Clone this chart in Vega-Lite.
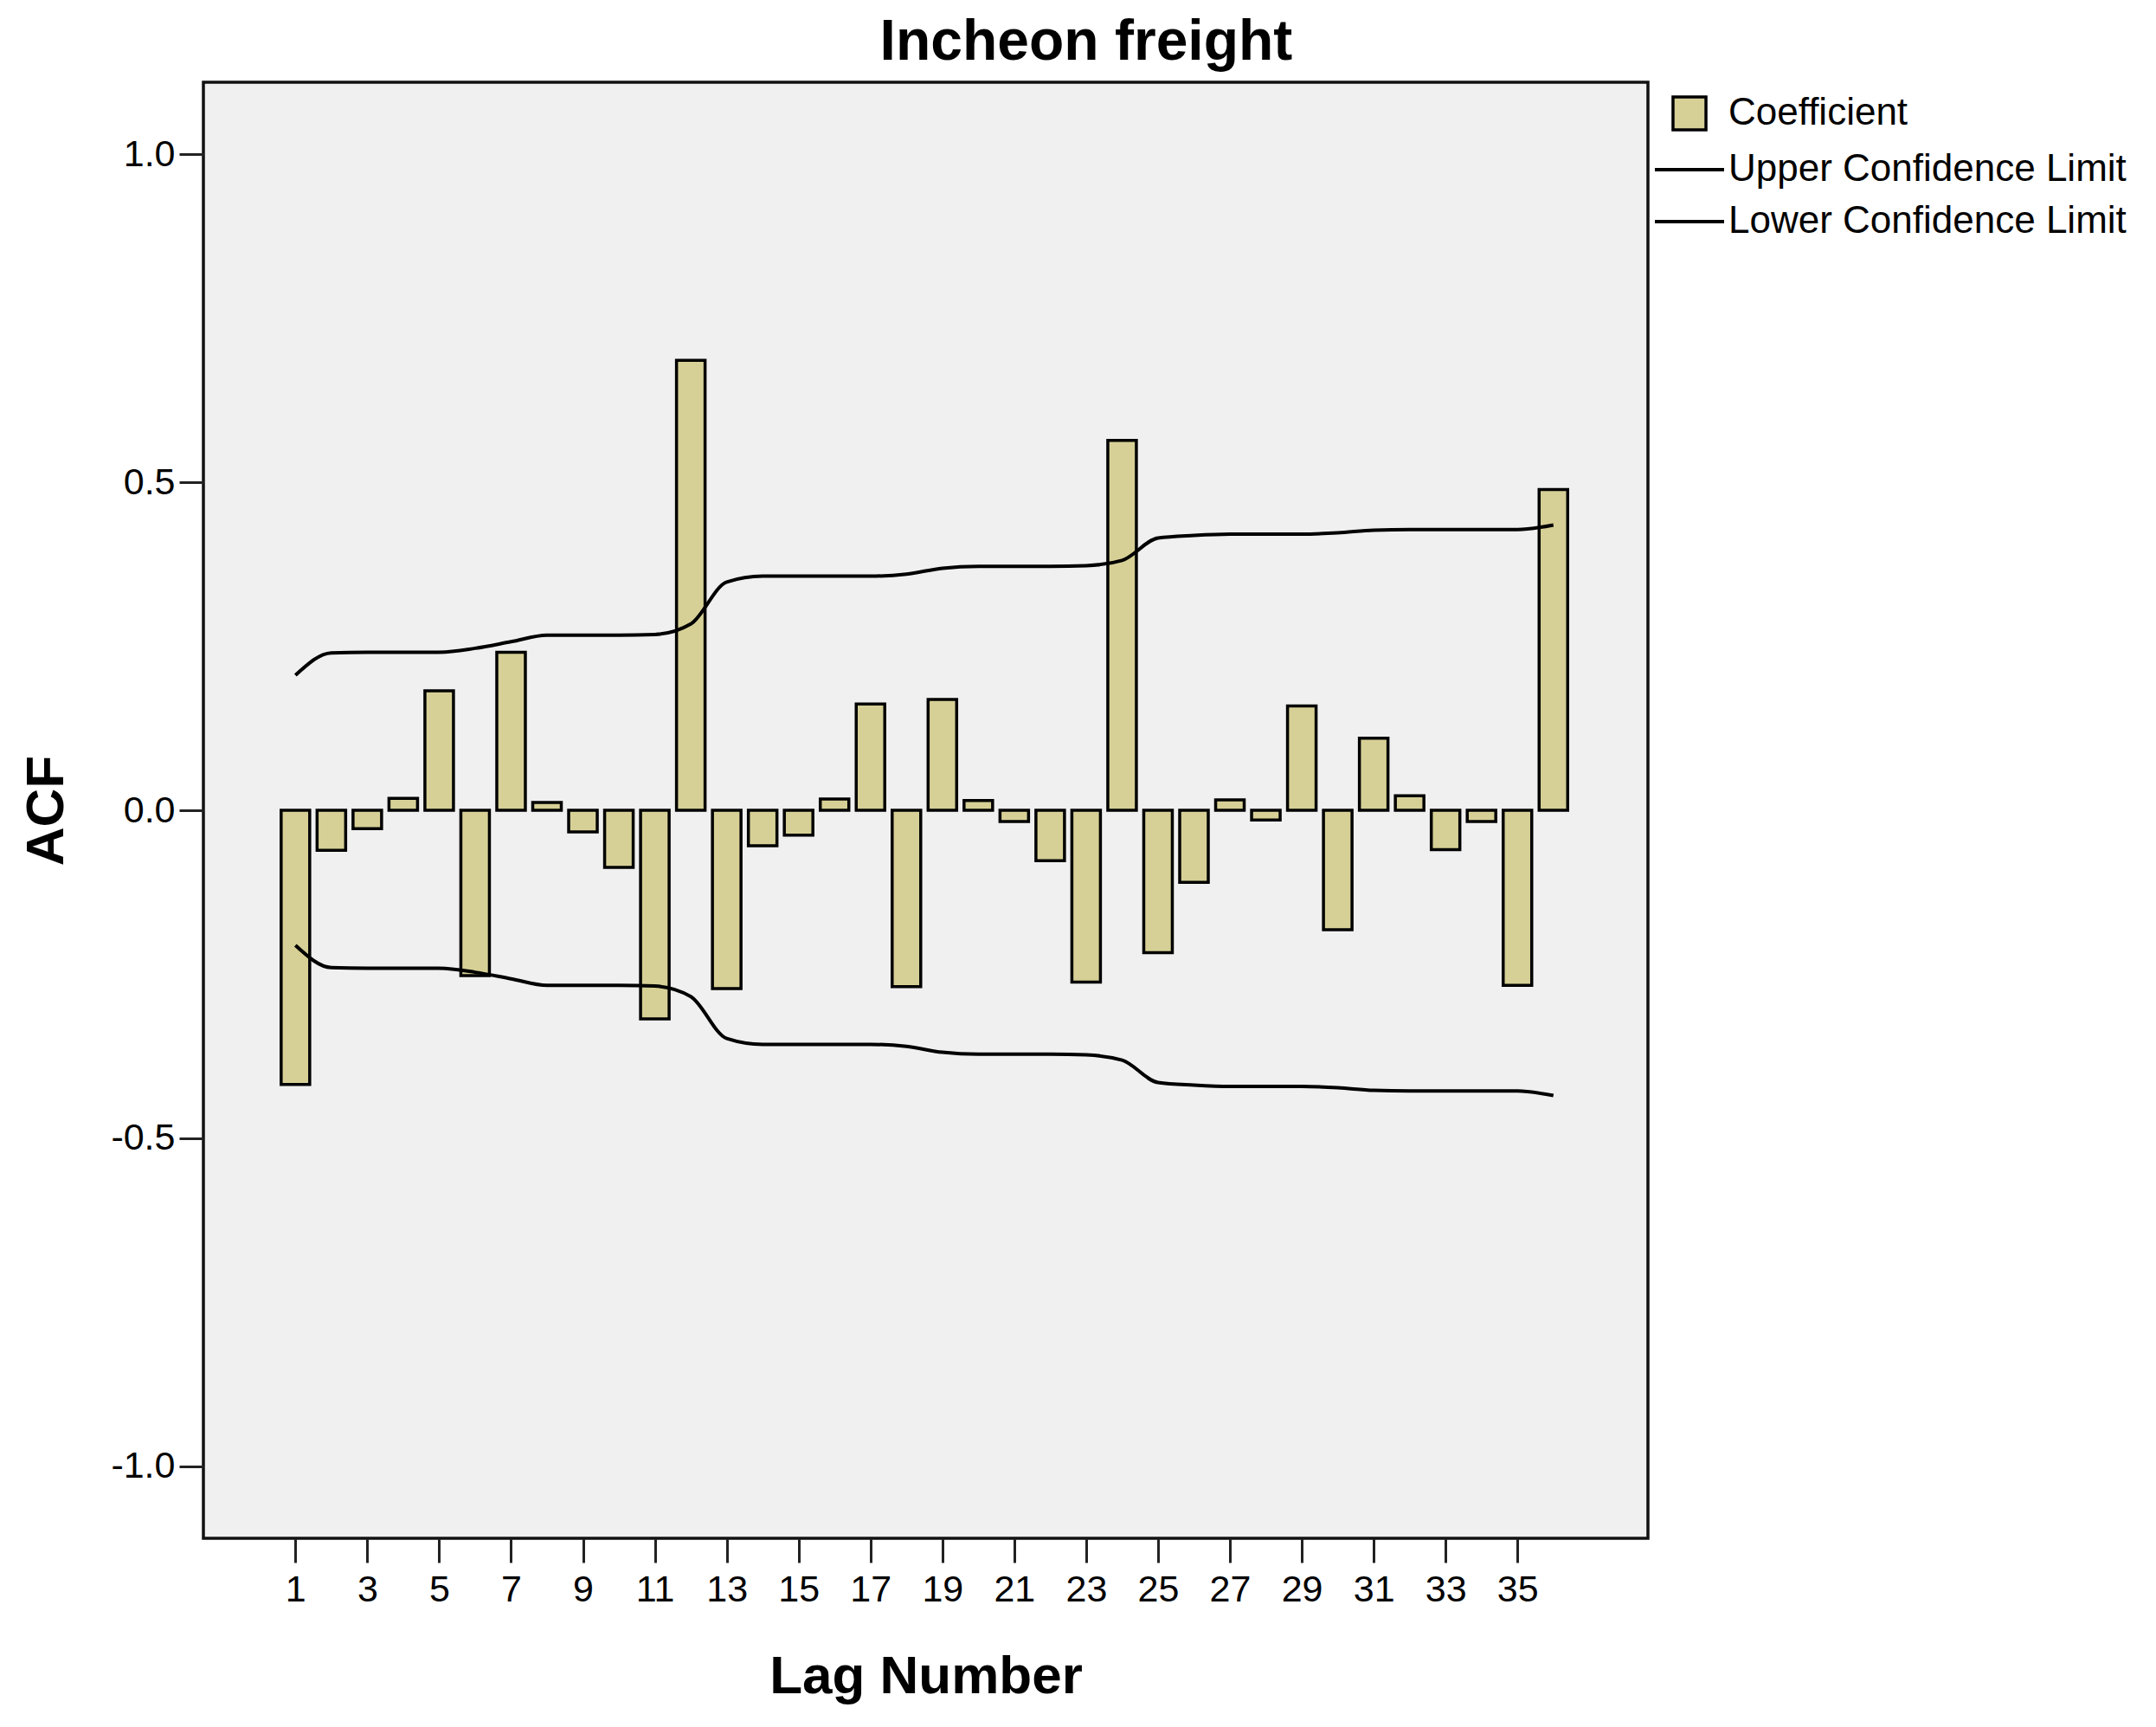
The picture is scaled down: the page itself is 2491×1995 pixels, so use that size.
{
  "$schema": "https://vega.github.io/schema/vega-lite/v6.json",
  "autosize": {"type": "none"},
  "padding": {"left": 235, "top": 95, "right": 587, "bottom": 218},
  "width": 1669,
  "height": 1682,
  "background": "white",
  "title": {
    "text": "Incheon freight",
    "font": "Liberation Sans",
    "fontSize": 66,
    "fontWeight": "bold",
    "color": "black",
    "anchor": "middle",
    "frame": "bounds",
    "offset": 12,
    "dx": 8
  },
  "data": {
    "values": [
      {"lag": 1, "acf": -0.418, "upper": 0.206, "lower": -0.206},
      {"lag": 2, "acf": -0.061, "upper": 0.240, "lower": -0.240},
      {"lag": 3, "acf": -0.028, "upper": 0.241, "lower": -0.241},
      {"lag": 4, "acf": 0.018, "upper": 0.241, "lower": -0.241},
      {"lag": 5, "acf": 0.182, "upper": 0.241, "lower": -0.241},
      {"lag": 6, "acf": -0.252, "upper": 0.247, "lower": -0.247},
      {"lag": 7, "acf": 0.241, "upper": 0.257, "lower": -0.257},
      {"lag": 8, "acf": 0.012, "upper": 0.267, "lower": -0.267},
      {"lag": 9, "acf": -0.033, "upper": 0.267, "lower": -0.267},
      {"lag": 10, "acf": -0.087, "upper": 0.267, "lower": -0.267},
      {"lag": 11, "acf": -0.318, "upper": 0.268, "lower": -0.268},
      {"lag": 12, "acf": 0.686, "upper": 0.284, "lower": -0.284},
      {"lag": 13, "acf": -0.272, "upper": 0.348, "lower": -0.348},
      {"lag": 14, "acf": -0.054, "upper": 0.357, "lower": -0.357},
      {"lag": 15, "acf": -0.038, "upper": 0.357, "lower": -0.357},
      {"lag": 16, "acf": 0.017, "upper": 0.357, "lower": -0.357},
      {"lag": 17, "acf": 0.162, "upper": 0.357, "lower": -0.357},
      {"lag": 18, "acf": -0.269, "upper": 0.360, "lower": -0.360},
      {"lag": 19, "acf": 0.169, "upper": 0.369, "lower": -0.369},
      {"lag": 20, "acf": 0.015, "upper": 0.372, "lower": -0.372},
      {"lag": 21, "acf": -0.017, "upper": 0.372, "lower": -0.372},
      {"lag": 22, "acf": -0.077, "upper": 0.372, "lower": -0.372},
      {"lag": 23, "acf": -0.262, "upper": 0.373, "lower": -0.373},
      {"lag": 24, "acf": 0.564, "upper": 0.381, "lower": -0.381},
      {"lag": 25, "acf": -0.217, "upper": 0.415, "lower": -0.415},
      {"lag": 26, "acf": -0.110, "upper": 0.419, "lower": -0.419},
      {"lag": 27, "acf": 0.016, "upper": 0.421, "lower": -0.421},
      {"lag": 28, "acf": -0.015, "upper": 0.421, "lower": -0.421},
      {"lag": 29, "acf": 0.159, "upper": 0.421, "lower": -0.421},
      {"lag": 30, "acf": -0.182, "upper": 0.423, "lower": -0.423},
      {"lag": 31, "acf": 0.110, "upper": 0.427, "lower": -0.427},
      {"lag": 32, "acf": 0.022, "upper": 0.428, "lower": -0.428},
      {"lag": 33, "acf": -0.060, "upper": 0.428, "lower": -0.428},
      {"lag": 34, "acf": -0.017, "upper": 0.428, "lower": -0.428},
      {"lag": 35, "acf": -0.267, "upper": 0.428, "lower": -0.428},
      {"lag": 36, "acf": 0.489, "upper": 0.435, "lower": -0.435}
    ]
  },
  "encoding": {
    "x": {
      "field": "lag",
      "type": "quantitative",
      "title": "Lag Number",
      "scale": {"domain": [-1.44, 38.51], "nice": false, "zero": false},
      "axis": {
        "values": [1, 3, 5, 7, 9, 11, 13, 15, 17, 19, 21, 23, 25, 27, 29, 31, 33, 35],
        "format": "d",
        "labelAngle": 0,
        "labelPadding": 10,
        "labelFlush": false,
        "labelOverlap": false,
        "titlePadding": 48
      }
    }
  },
  "layer": [
    {
      "mark": {"type": "bar", "size": 33, "stroke": "black", "strokeWidth": 3.5},
      "encoding": {
        "y": {
          "field": "acf",
          "type": "quantitative",
          "title": "ACF",
          "scale": {"domain": [-1.11, 1.11], "nice": false, "zero": false},
          "axis": {
            "values": [-1, -0.5, 0, 0.5, 1],
            "format": ".1f",
            "labelExpr": "replace(datum.label, '\u2212', '-')",
            "labelPadding": 5,
            "titlePadding": 42
          }
        },
        "fill": {
          "datum": "Coefficient",
          "type": "nominal",
          "scale": {"domain": ["Coefficient"], "range": ["#d6d096"]},
          "legend": null
        }
      }
    },
    {
      "mark": {"type": "rule", "color": "black", "strokeWidth": 3},
      "encoding": {"y": {"datum": 0, "type": "quantitative"}}
    },
    {
      "mark": {"type": "line", "strokeWidth": 4, "interpolate": "monotone"},
      "encoding": {
        "y": {"field": "upper", "type": "quantitative"},
        "color": {
          "datum": "Upper Confidence Limit",
          "type": "nominal",
          "scale": {
            "domain": ["Coefficient", "Upper Confidence Limit", "Lower Confidence Limit"],
            "range": ["#000000", "#000000", "#000000"]
          },
          "legend": {
            "title": null,
            "symbolType": "stroke",
            "encode": {
              "symbols": {
                "update": {
                  "shape": {"signal": "datum.label === 'Coefficient' ? 'square' : 'stroke'"},
                  "size": {"signal": "datum.label === 'Coefficient' ? 1450 : 6400"},
                  "fill": {"signal": "datum.label === 'Coefficient' ? '#d6d096' : 'transparent'"},
                  "strokeWidth": {"signal": "datum.label === 'Coefficient' ? 3.5 : 4"}
                }
              }
            }
          }
        }
      }
    },
    {
      "mark": {"type": "line", "strokeWidth": 4, "interpolate": "monotone"},
      "encoding": {
        "y": {"field": "lower", "type": "quantitative"},
        "color": {
          "datum": "Lower Confidence Limit",
          "type": "nominal",
          "legend": {
            "title": null,
            "symbolType": "stroke",
            "encode": {
              "symbols": {
                "update": {
                  "shape": {"signal": "datum.label === 'Coefficient' ? 'square' : 'stroke'"},
                  "size": {"signal": "datum.label === 'Coefficient' ? 1450 : 6400"},
                  "fill": {"signal": "datum.label === 'Coefficient' ? '#d6d096' : 'transparent'"},
                  "strokeWidth": {"signal": "datum.label === 'Coefficient' ? 3.5 : 4"}
                }
              }
            }
          }
        }
      }
    }
  ],
  "config": {
    "view": {"fill": "#f0f0f0", "stroke": "#111111", "strokeWidth": 3.5},
    "axis": {
      "grid": false,
      "domain": false,
      "tickColor": "#222222",
      "tickWidth": 3,
      "tickSize": 28,
      "labelFont": "Liberation Sans",
      "labelFontSize": 43,
      "labelColor": "black",
      "titleFont": "Liberation Sans",
      "titleFontSize": 62,
      "titleFontWeight": "bold",
      "titleColor": "black"
    },
    "legend": {
      "orient": "right",
      "offset": 12,
      "padding": 14,
      "labelFont": "Liberation Sans",
      "labelFontSize": 44,
      "labelColor": "black",
      "labelOffset": 23,
      "symbolSize": 2500,
      "rowPadding": 16,
      "labelLimit": 800
    }
  }
}
